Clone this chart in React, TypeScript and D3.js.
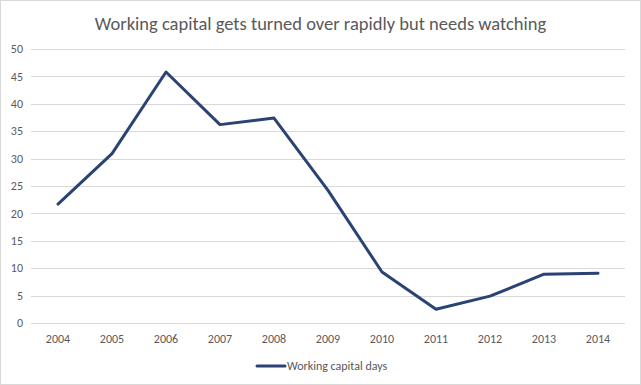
import React from 'react'
import * as d3 from 'd3'

const years = ['2004', '2005', '2006', '2007', '2008', '2009', '2010', '2011', '2012', '2013', '2014']
const workingCapitalDays = [21.7, 30.9, 45.8, 36.2, 37.4, 24.2, 9.3, 2.5, 4.9, 8.9, 9.1]
const yTicks = [0, 5, 10, 15, 20, 25, 30, 35, 40, 45, 50]

const W = 641
const H = 385
const margin = { top: 49, right: 16, bottom: 62, left: 31 }
const FONT = 'Carlito, Calibri, "Open Sans", sans-serif'
const TEXT = '#595959'
const LINE = '#2a4374'

export default function App() {
  const innerW = W - margin.left - margin.right
  const innerH = H - margin.top - margin.bottom

  const x = d3.scaleBand().domain(years).range([0, innerW])
  const y = d3.scaleLinear().domain([0, 50]).range([innerH, 0])

  const line = d3.line<number>()
    .x((_, i) => (x(years[i]) ?? 0) + x.bandwidth() / 2)
    .y(d => y(d))

  return (
    <svg width={W} height={H} style={{ position: 'absolute', left: 0, top: 0, fontFamily: FONT }}>
      <rect x={0.5} y={0.5} width={W - 1} height={H - 1} fill="#fff" stroke="#d9d9d9" />
      <text x={W / 2} y={30} textAnchor="middle" fontSize={18.5} fill={TEXT}>
        Working capital gets turned over rapidly but needs watching
      </text>
      <g transform={`translate(${margin.left},${margin.top})`}>
        {yTicks.map(t => (
          <g key={t}>
            <line x1={0} x2={innerW} y1={Math.round(y(t)) + 0.5} y2={Math.round(y(t)) + 0.5} stroke="#d9d9d9" />
            <text x={-8} y={y(t)} dy="0.35em" textAnchor="end" fontSize={12} fill={TEXT}>{t}</text>
          </g>
        ))}
        {years.map(yr => (
          <text key={yr} x={(x(yr) ?? 0) + x.bandwidth() / 2} y={innerH + 20} textAnchor="middle" fontSize={12} fill={TEXT}>
            {yr}
          </text>
        ))}
        <path d={line(workingCapitalDays) ?? ''} fill="none" stroke={LINE} strokeWidth={3} strokeLinejoin="round" strokeLinecap="round" />
      </g>
      <g transform="translate(257,366)">
        <line x1={0} x2={28} y1={0} y2={0} stroke={LINE} strokeWidth={3} strokeLinecap="round" />
        <text x={30} y={0} dy="0.35em" fontSize={12} fill={TEXT}>Working capital days</text>
      </g>
    </svg>
  )
}
